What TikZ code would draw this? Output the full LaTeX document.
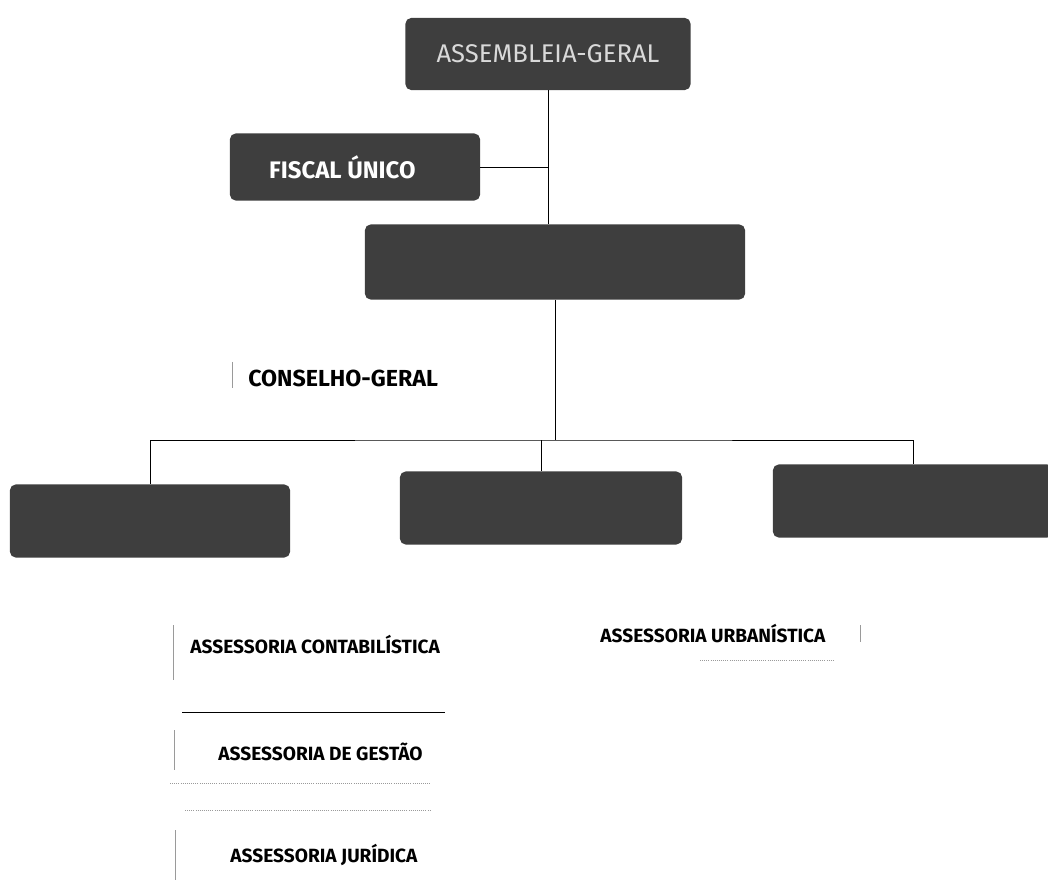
\documentclass[tikz,border=0pt]{standalone}
\usepackage{fontspec}
\setmainfont{Fira Sans}
\definecolor{boxgray}{HTML}{3E3E3E}
\definecolor{scangray}{HTML}{9A9A9A}
\tikzset{
  orgbox/.style={fill=boxgray, rounded corners=4pt, inner sep=0pt},
  link/.style={line width=.6pt, black},
  tick/.style={line width=.5pt, scangray},
  faint/.style={line width=.5pt, scangray, densely dotted},
  lbl/.style={anchor=west, inner sep=0pt, font=\bfseries\fontsize{13.6}{14}\selectfont}
}
\begin{document}
\begin{tikzpicture}[x=0.025cm,y=-0.025cm]
  \useasboundingbox (0,0) rectangle (1048,886);
  % top boxes
  \node[orgbox, minimum width=7.125cm, minimum height=1.8cm, text=white!85!black,
        font=\fontsize{18.2}{20}\selectfont] (ag) at (548,54) {ASSEMBLEIA-GERAL};
  \node[orgbox, minimum width=6.25cm, minimum height=1.675cm, text=white,
        font=\bfseries\fontsize{17}{18}\selectfont] (fu) at (355,167) {\hspace*{-18pt}FISCAL ÚNICO};
  \node[orgbox, minimum width=9.5cm, minimum height=1.875cm] (cg) at (555,262) {};
  \draw[link] (ag) -- (ag |- cg.north);
  \draw[link] (fu.east) -- (fu.east -| ag);

  \draw[tick] (232,362) -- (232,388);
  \node[lbl, font=\bfseries\fontsize{16.5}{18}\selectfont] (cglbl) at (248,378) {CONSELHO-GERAL};

  % second level
  \coordinate (bar) at (555,440);
  \node[orgbox, minimum width=7cm, minimum height=1.825cm] (left) at (150,521) {};
  \node[orgbox, minimum width=7.05cm, minimum height=1.825cm] (mid) at (541,508) {};
  \node[orgbox, minimum width=7cm, minimum height=1.825cm] (right) at (913,501) {};
  \draw[link] (cg.south) -- (cg.south |- bar);
  \draw[link] (left.north) |- (bar) -| (right.north);
  \draw[link] (mid.north) -- (mid.north |- bar);

  % assessorias
  \draw[tick] (173,625) -- (173,680);
  \node[lbl] (contab) at (190,645) {ASSESSORIA CONTABILÍSTICA};
  \draw[link] (182,712) -- (445,712);
  \draw[tick] (174,730) -- (174,770);
  \node[lbl] (gestao) at (218,752) {ASSESSORIA DE GESTÃO};
  \draw[faint] (170,783) -- (430,783);
  \draw[faint] (185,810) -- (430,810);
  \draw[tick] (175,830) -- (175,880);
  \node[lbl] (jurid) at (230,855) {ASSESSORIA JURÍDICA};

  \node[lbl] (urban) at (600,634) {ASSESSORIA URBANÍSTICA};
  \draw[faint] (700,660) -- (833,660);
  \draw[tick] (860,625) -- (860,642);
\end{tikzpicture}
\end{document}
